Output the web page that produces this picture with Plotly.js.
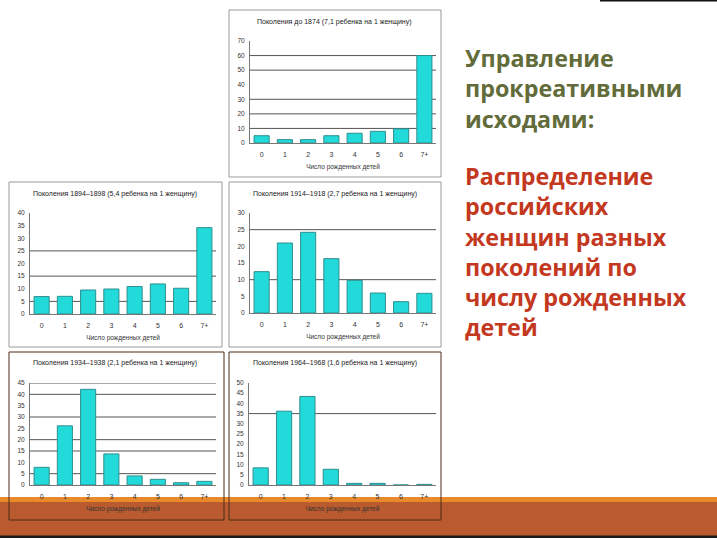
<!DOCTYPE html>
<html><head><meta charset="utf-8">
<script src="https://cdn.plot.ly/plotly-3.0.1.min.js"></script>
<style>html,body{margin:0;padding:0;background:#fff;}#chart{width:717px;height:538px;}</style>
</head><body><div id="chart"></div>
<script>
// ---- data ----
const categories = ['0','1','2','3','4','5','6','7+'];
const gen1874 = [5, 2.3, 2.3, 5, 6.7, 8, 9.7, 60];
const gen1894 = [6.9, 7, 9.5, 9.9, 10.9, 11.9, 10.2, 34.2];
const gen1914 = [12.4, 21, 24.2, 16.3, 9.8, 6, 3.4, 5.9];
const gen1934 = [7.8, 26.1, 42.2, 13.7, 4, 2.5, 1, 1.6];
const gen1964 = [8.4, 36.2, 43.4, 7.7, 0.8, 0.8, 0, 0.3];
const chartTitles = [
  'Поколения до 1874 (7,1 ребенка на 1 женщину)',
  'Поколения 1894–1898 (5,4 ребенка на 1 женщину)',
  'Поколения 1914–1918 (2,7 ребенка на 1 женщину)',
  'Поколения 1934–1938 (2,1 ребенка на 1 женщину)',
  'Поколения 1964–1968 (1,6 ребенка на 1 женщину)'
];
const xTitle = 'Число рожденных детей';
const yMax = [70, 40, 30, 45, 50];
const yStep = [10, 5, 5, 5, 5];
const gridVals = [[10,20,30,50,60],[5,15,25],[10,25],[5,15,20,30,40,45],[35]];
const headText = 'Управление<br>прокреативными<br>исходами:';
const bodyText = 'Распределение<br>российских<br>женщин разных<br>поколений по<br>числу рожденных<br>детей';

// ---- layout helpers (pixel boxes -> paper fractions) ----
const W = 717, H = 538;
const fx = p => p / W, fy = p => 1 - p / H;
const series = [gen1874, gen1894, gen1914, gen1934, gen1964];
// plot areas: [left, right, top, bottom] in px
const boxes = [[250,436,41,143],[30,216,213,314],[250,436,213,313],[30,216,383,485],[249,436,383,485]];
const frames = [[229,441,10,177],[9,222,182,347],[229,441,182,347],[9,224,352,520],[229,441,352,520]];
const titlePos = [[334,22],[115,194],[335,194],[115,363],[335,363]];

const font = 'Liberation Sans, Arial, sans-serif';
const traces = [], layout = {
  width: W, height: H, margin: {l:0,r:0,t:0,b:0}, showlegend: false,
  paper_bgcolor: '#fff', plot_bgcolor: 'rgba(0,0,0,0)', bargap: 0.35,
  font: {family: font, size: 7, color: '#333'},
  shapes: [], annotations: []
};
// background band
layout.shapes.push({type:'rect', xref:'paper', yref:'paper', x0:0, x1:1, y0:fy(538), y1:fy(497), fillcolor:'#B95B2F', line:{width:0}, layer:'below'});
layout.shapes.push({type:'rect', xref:'paper', yref:'paper', x0:0, x1:1, y0:fy(502), y1:fy(497), fillcolor:'#E8892C', line:{width:0}, layer:'below'});
layout.shapes.push({type:'rect', xref:'paper', yref:'paper', x0:0, x1:1, y0:fy(538), y1:fy(535.5), fillcolor:'#1a1a1a', line:{width:0}, layer:'below'});
layout.shapes.push({type:'line', xref:'paper', yref:'paper', x0:fx(600), x1:1, y0:fy(0.8), y1:fy(0.8), line:{color:'#111', width:1.5}});

series.forEach((vals, i) => {
  const n = i + 1, xa = 'xaxis' + (n===1?'':n), ya = 'yaxis' + (n===1?'':n);
  const xr = 'x' + (n===1?'':n), yr = 'y' + (n===1?'':n);
  const b = boxes[i];
  traces.push({type:'bar', x: categories, y: vals, xaxis: xr, yaxis: yr,
    marker:{color:'#22DADA', line:{color:'#2E8E8E', width:1}}, hoverinfo:'x+y'});
  layout[xa] = {domain:[fx(b[0]), fx(b[1])], anchor: yr, type:'category',
    showline:true, linecolor:'#777', linewidth:1, ticks:'', tickfont:{size:7, color:'#333'}, ticklabelstandoff: 5,
    title:{text: xTitle, font:{size:6.5, color:'#333'}, standoff: 7}, automargin:false, fixedrange:true};
  layout[ya] = {domain:[fy(b[3]), fy(b[2])], anchor: xr, range:[0, yMax[i]], dtick: yStep[i], tick0:0,
    showline:true, linecolor:'#777', linewidth:1, showgrid:false, zeroline:false, ticks:'',
    tickfont:{size:6.5, color:'#333'}, ticklabelstandoff: 3, automargin:false, fixedrange:true};
  gridVals[i].forEach(g => layout.shapes.push({type:'line', xref: xr + ' domain', yref: yr,
    x0:0, x1:1, y0:g, y1:g, line:{color:'#555', width:1}, layer:'below'}));
  const f = frames[i];
  layout.shapes.push({type:'rect', xref:'paper', yref:'paper', x0:fx(f[0]), x1:fx(f[1]), y0:fy(f[3]), y1:fy(f[2]),
    line:{color: i>=3 ? '#4a2a1a' : '#999', width:1}, fillcolor:'rgba(0,0,0,0)', layer:'below'});
  layout.annotations.push({xref:'paper', yref:'paper', x:fx(titlePos[i][0]), y:fy(titlePos[i][1]),
    text: chartTitles[i], showarrow:false, xanchor:'center', yanchor:'middle', font:{size:7, color:'#222'}});
});

const textFont = 'Open Sans, Liberation Sans, Arial, sans-serif';
layout.annotations.push({xref:'paper', yref:'paper', x:fx(463), y:fy(40), xanchor:'left', yanchor:'top', align:'left',
  text:'<b>'+headText+'</b>', showarrow:false, font:{family:textFont, size:23.3, color:'#626B3A'}});
layout.annotations.push({xref:'paper', yref:'paper', x:fx(463), y:fy(158), xanchor:'left', yanchor:'top', align:'left',
  text:'<b>'+bodyText+'</b>', showarrow:false, font:{family:textFont, size:23.3, color:'#C3381E'}});

Plotly.newPlot('chart', traces, layout, {displayModeBar:false, staticPlot:true});
</script></body></html>
